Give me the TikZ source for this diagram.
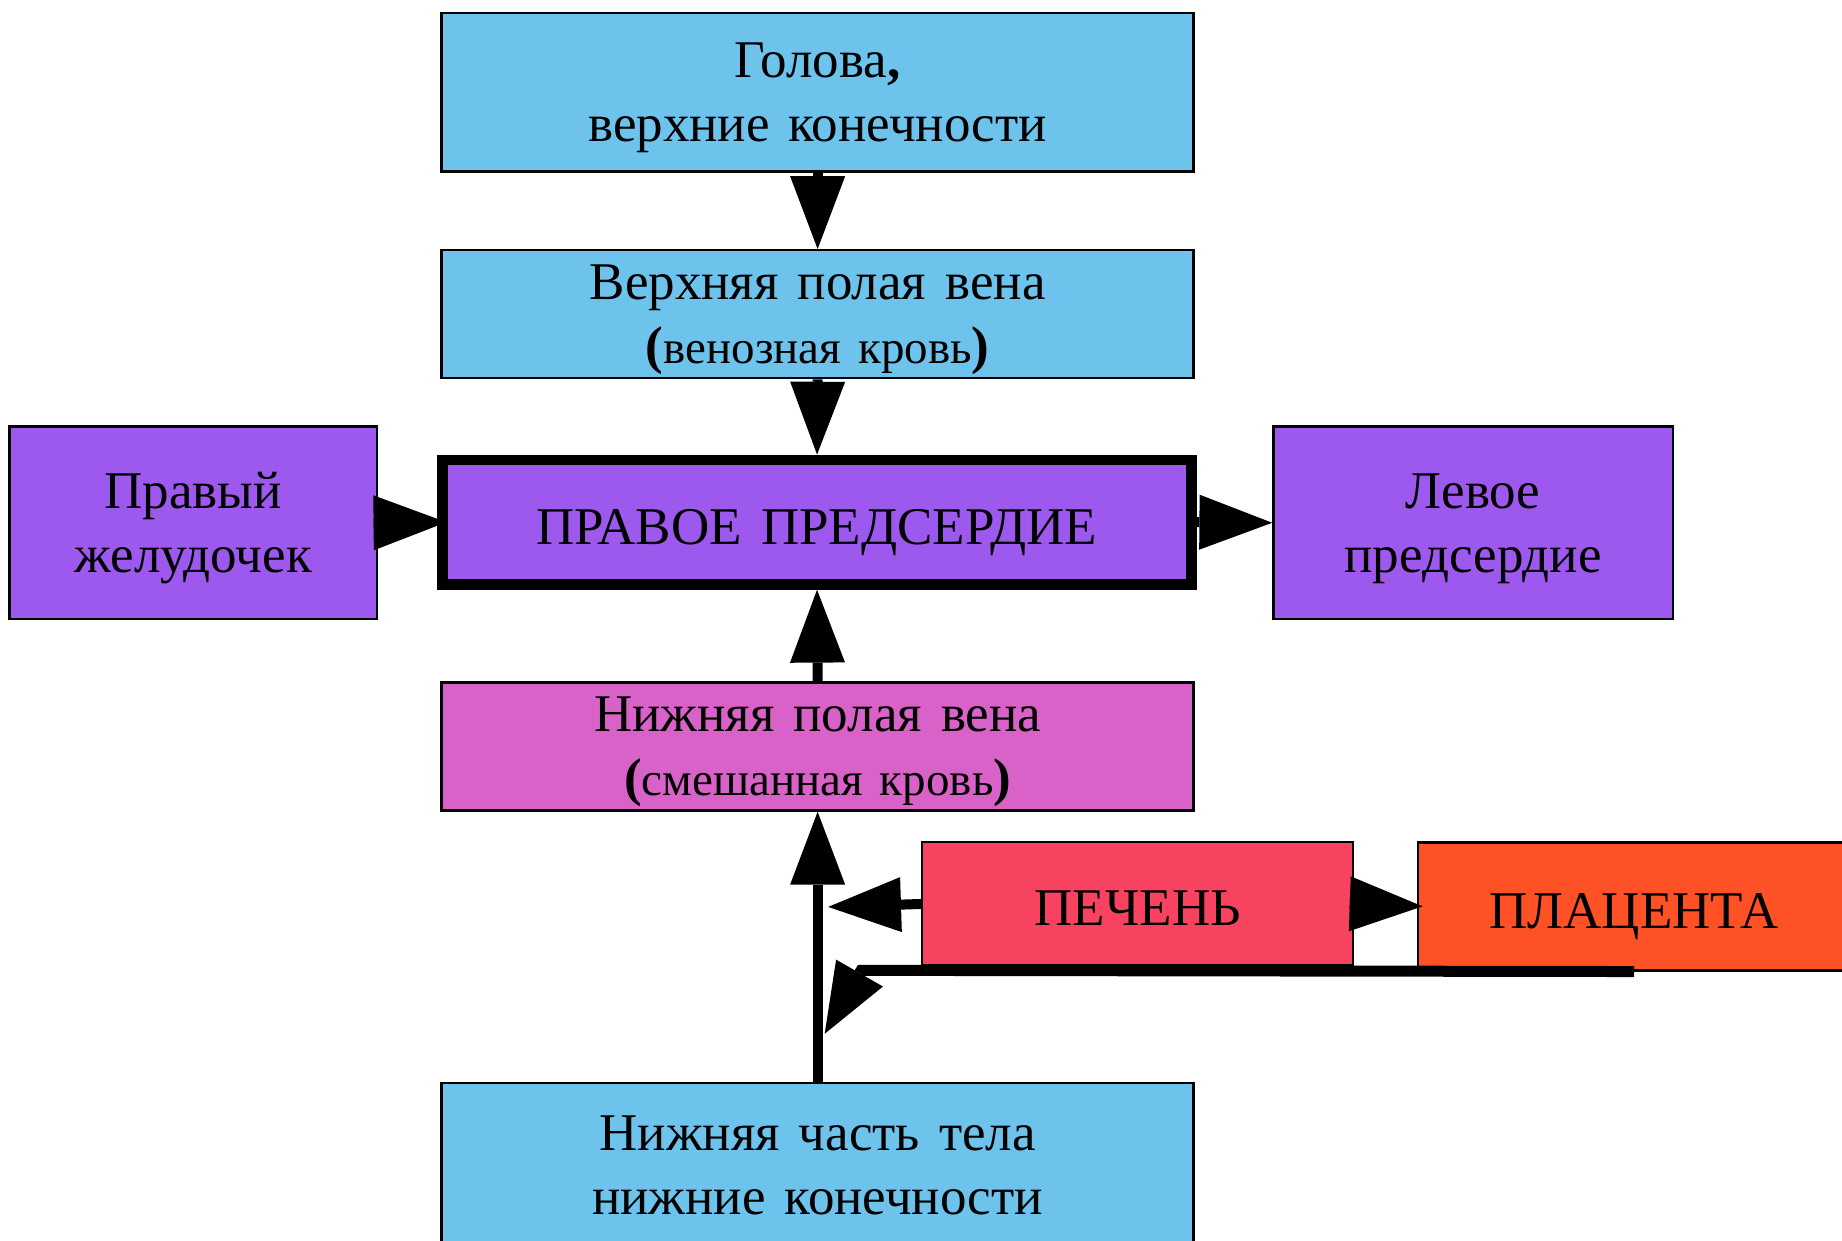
\documentclass[tikz,border=0pt]{standalone}
\usepackage{fontspec}
\setmainfont{Liberation Serif}
\usetikzlibrary{arrows.meta}
\definecolor{cblue}{RGB}{110,195,236}
\definecolor{cpurple}{RGB}{157,88,238}
\definecolor{corchid}{RGB}{216,98,200}
\definecolor{cliver}{RGB}{247,67,96}
\definecolor{cplac}{RGB}{255,81,38}
\newcommand{\boxfont}{\fontsize{26.5}{32}\selectfont\spaceskip=0.36em plus 0.1em\relax}
\newcommand{\smalltxt}[1]{{\fontsize{23.5}{32}\selectfont\spaceskip=0.36em plus 0.1em\relax #1}}
\begin{document}
\begin{tikzpicture}[x=0.5873pt, y=-0.5873pt,
  box/.style={draw=black, line width=1.2pt, align=center, inner sep=0pt, text depth=0pt,
    font=\boxfont},
  oneline/.style={text height=22pt},
  arr/.style={line width=5pt, -{Triangle[length=36.4pt,width=27.5pt,line width=0pt]}},
  arrb/.style={line width=5.5pt, -{Triangle[length=35pt,width=27pt,line width=0pt]}},
]
\useasboundingbox (0,0) rectangle (1568,1056);

\node[box, fill=cblue, minimum width=375.9pt, minimum height=79.3pt] (head) at (696,78.5)
  {Голова\textbf{,}\\верхние конечности};
\node[box, fill=cblue, minimum width=375.9pt, minimum height=64pt] (svc) at (696,267.5)
  {Верхняя полая вена\\\textbf{(}\smalltxt{венозная кровь}\textbf{)}};
\node[box, oneline, fill=cpurple, line width=5.3pt, minimum width=374.7pt, minimum height=62.3pt] (ra) at (695.5,444.5)
  {ПРАВОЕ ПРЕДСЕРДИЕ};
\node[box, fill=cpurple, minimum width=183.8pt, minimum height=96.3pt] (rv) at (164.5,445)
  {Правый\\желудочек};
\node[box, fill=cpurple, minimum width=199.7pt, minimum height=96.3pt] (la) at (1254,445)
  {Левое\\предсердие};
\node[box, fill=corchid, minimum width=375.9pt, minimum height=64pt] (ivc) at (696,635.5)
  {Нижняя полая вена\\\textbf{(}\smalltxt{смешанная кровь}\textbf{)}};
\node[box, oneline, fill=cliver, minimum width=215.5pt, minimum height=61.7pt] (liver) at (968.5,769.5)
  {ПЕЧЕНЬ};
\node[box, oneline, fill=cplac, minimum width=216.1pt, minimum height=64pt] (plac) at (1391,771.5)
  {ПЛАЦЕНТА};
\node[box, fill=cblue, minimum width=375.9pt, minimum height=82.2pt] (lower) at (696,992)
  {Нижняя часть тела\\нижние конечности};

\coordinate (ltip) at (705,772);
\coordinate (bend) at (733,826);
\coordinate (btip) at (702,880);

\draw[arr] (head.south) -- (svc.north);
\draw[arr] (svc.south) -- (ra.north);
\draw[arr] (rv.east) -- ([xshift=4.7pt]ra.west);
\draw[arr] (ra.east) -- (la.west);
\draw[arr] (ivc.north) -- (ra.south);
\draw[arr] (lower.north) -- (ivc.south);
\draw[arr] (liver.west) -- (ltip);
\draw[arr] (liver.east) -- ([xshift=2.9pt]plac.west);
\draw[arrb] (plac.south) -- (bend) -- (btip);
\end{tikzpicture}
\end{document}
